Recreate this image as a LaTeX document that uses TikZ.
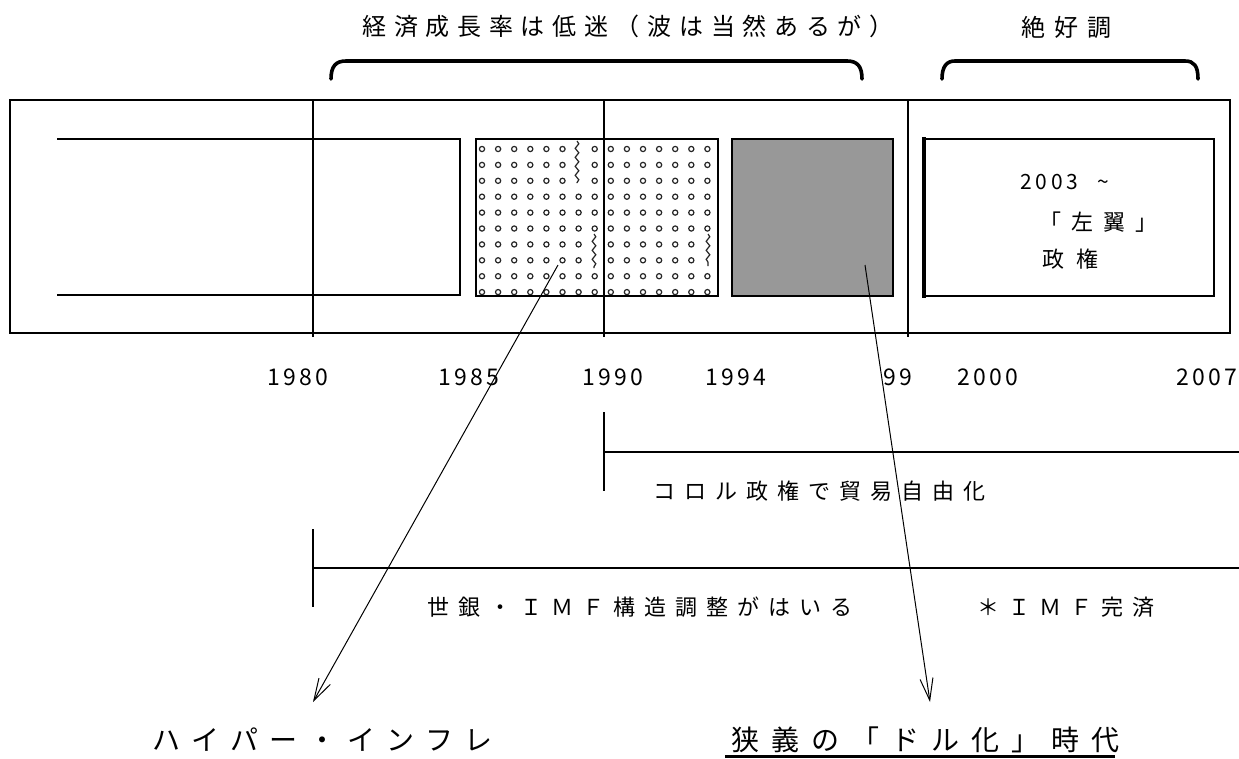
\documentclass[tikz,border=0pt]{standalone}
\usepackage{fontspec}
\setmainfont{Noto Sans CJK JP}
\usetikzlibrary{arrows.meta,decorations.pathmorphing}
\makeatletter
\newcommand\spc[2]{\@tfor\spcc:=#2\do{\makebox[#1]{\spcc}}}
\makeatother
\definecolor{boxgray}{RGB}{152,152,152}
\tikzset{
  frame/.style={line width=1.3pt},
  brace/.style={line width=3.6pt, line cap=round},
  dot/.style={line width=1.2pt, black!85},
  arr/.style={line width=1pt, -{Straight Barb[length=22pt,width=13pt,line width=1pt]}},
  lbl/.style={inner sep=0pt, anchor=center},
  yr/.style={lbl, font=\fontsize{23}{23}\selectfont},
}
\begin{document}
\begin{tikzpicture}[x=1pt,y=-1pt]
\fill[white] (0,0) rectangle (1239,758);
\useasboundingbox (0,0) rectangle (1239,758);

% top texts
\node[lbl] (t1) at (628,26) {\fontsize{24}{24}\selectfont\spc{31.7pt}{経済成長率は低迷（波は当然あるが）}};
\node[lbl] (t2) at (1066,27) {\fontsize{24}{24}\selectfont\spc{33pt}{絶好調}};

% braces
\draw[brace] (331,79) .. controls (331,66) and (336,61) .. (346,61) -- (847,61) .. controls (857,61) and (862,66) .. (862,79);
\draw[brace] (942,79) .. controls (942,66) and (947,61) .. (955,61) -- (1185,61) .. controls (1194,61) and (1198,66) .. (1198,79);

% outer frame
\draw[frame] (10,100) rectangle (1230,333);
\draw[frame] (313,100) -- (313,337);
\draw[frame] (604,100) -- (604,337);
\draw[frame] (908,100) -- (908,337);

% left open box
\draw[frame] (57,139) -- (460,139) -- (460,295) -- (57,295);

% dotted box
\begin{scope}
\clip (476,139) rectangle (718,296);
\foreach \i in {0,...,14}{
  \foreach \j in {0,...,9}{
    \pgfmathtruncatemacro\skipit{((\i==6) && (\j<3)) || (((\i==7) || (\i==14)) && ((\j==6) || (\j==7))) ? 1 : 0}
    \ifnum\skipit=0 \draw[dot] ({482+16.1*\i},{149+15.9*\j}) circle[radius=2.6pt];\fi
  }
}
\draw[dot, decorate, decoration={snake, amplitude=1.8pt, segment length=9pt}] (577,141) -- (577,183);
\draw[dot, decorate, decoration={snake, amplitude=1.8pt, segment length=9pt}] (594,234) -- (594,268);
\draw[dot, decorate, decoration={snake, amplitude=1.8pt, segment length=9pt}] (708,234) -- (708,266);
\end{scope}
\draw[frame] (476,139) rectangle (718,296);
\draw[frame] (604,139) -- (604,296);

% gray box
\draw[frame, fill=boxgray] (732,139) rectangle (893,296);

% right box
\draw[frame] (924,139) rectangle (1214,296);
\draw[line width=4pt] (924,137) -- (924,298);
\node[lbl, anchor=west, font=\fontsize{21}{21}\selectfont] (r1) at (1018,182) {\spc{15.5pt}{2003{\ }{\char"7E}}};
\node[lbl, anchor=west, font=\fontsize{22}{22}\selectfont] (r2) at (1034,222) {\spc{32pt}{「左翼」}};
\node[lbl, anchor=west, font=\fontsize{22}{22}\selectfont] (r3) at (1036,259) {\spc{34pt}{政権}};

% year labels
\node[yr] (y1980) at (298,377) {\spc{16pt}{1980}};
\node[yr] (y1985) at (469,377) {\spc{16pt}{1985}};
\node[yr] (y1990) at (613,377) {\spc{16pt}{1990}};
\node[yr] (y1994) at (736,377) {\spc{16pt}{1994}};
\node[yr] (y99) at (898,377) {\spc{16pt}{99}};
\node[yr] (y2000) at (988,377) {\spc{16pt}{2000}};
\node[yr] (y2007) at (1207,377) {\spc{16pt}{2007}};

% period bars
\draw[frame] (604,412) -- (604,491);
\draw[frame] (604,452) -- (1239,452);
\node[lbl, anchor=west, font=\fontsize{22}{22}\selectfont] (b1) at (649,491) {\spc{31pt}{コロル政権で貿易自由化}};
\draw[frame] (313,529) -- (313,607);
\draw[frame] (313,568) -- (1239,568);
\node[lbl, anchor=west, font=\fontsize{22}{22}\selectfont] (b2) at (423,607) {\spc{31pt}{世銀・ＩＭＦ構造調整がはいる}};
\node[lbl, anchor=west, font=\fontsize{22}{22}\selectfont] (b3) at (973,607) {\spc{31pt}{＊ＩＭＦ完済}};

% bottom labels
\node[lbl, anchor=west, font=\fontsize{28}{28}\selectfont] (h1) at (147,740) {\spc{39pt}{ハイパー・インフレ}};
\node[lbl, anchor=west, font=\fontsize{28}{28}\selectfont] (h2) at (725,740) {\spc{40pt}{狭義の「ドル化」時代}};
\draw[line width=3pt] (h2.west |- 0,756) coordinate (u1) -- (1115,756) coordinate (u2);

% arrows
\coordinate (a1s) at (558,265);
\coordinate (a1e) at (313,702);
\coordinate (a2s) at (865,265);
\coordinate (a2e) at (930,702);
\draw[arr] (a1s) -- (a1e);
\draw[arr] (a2s) -- (a2e);
\end{tikzpicture}
\end{document}
